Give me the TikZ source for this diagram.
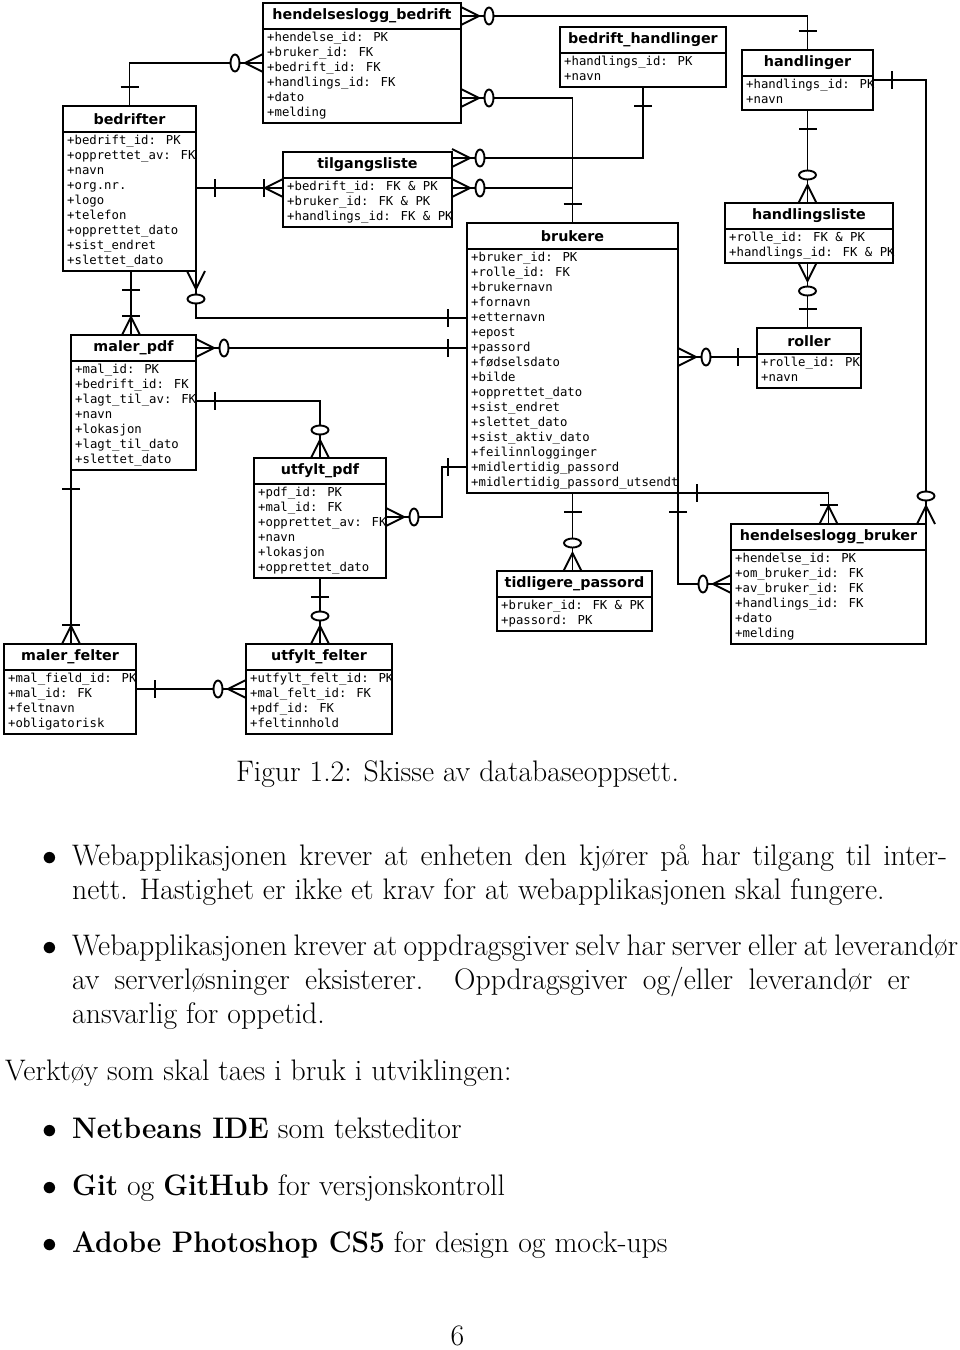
\RequirePackage{fix-cm}
\documentclass[tikz,border=0pt]{standalone}
\usepackage{fontspec}
\newfontfamily\hdrfont{DejaVu Sans}
\newfontfamily\rowfont{DejaVu Sans Mono}
\newcommand\bfx[1]{\scalebox{0.945}[1]{\textbf{#1}}}
\tikzset{
  x=1pt, y=-1pt,
  ebox/.style={draw, line width=2.4pt, fill=white, inner sep=0, outer sep=0, rectangle},
  hline/.style={line width=2.4pt},
  conn/.style={line width=1.9pt, line cap=butt, line join=miter},
  etitle/.style={font=\hdrfont\bfseries\fontsize{14.3pt}{16pt}\selectfont, inner sep=0},
  erow/.style={font=\rowfont\fontsize{12.3pt}{15pt}\selectfont, inner sep=0, anchor=west, text height=9pt, text depth=3pt},
  doc/.style={font=\fontsize{29.7pt}{34pt}\selectfont, inner sep=0, anchor=base west},
}
\newcommand\entity[6]{%
  \node[ebox, anchor=north west, minimum width=#4pt, minimum height=#5pt] (#1) at (#2,#3) {};
  \draw[hline] ([yshift=-26pt]#1.north west) -- ([yshift=-26pt]#1.north east);
  \node[etitle] at ([yshift=-13pt]#1.north) {#6};
}
\newcommand\rowlist[2]{%
  \foreach \rt [count=\ri] in {#2}
    \node[erow] at ([xshift=4pt,yshift={-20pt-15pt*\ri}]#1.north west) {\rt};
}
\newcommand\symbar[2]{\begin{scope}[shift={#1},rotate=#2]\draw[conn] (19,-9) -- (19,9);\end{scope}}
\newcommand\symcrow[2]{\begin{scope}[shift={#1},rotate=#2]\draw[conn] (0,-9) -- (18,0) -- (0,9);\end{scope}}
\newcommand\symcirc[2]{\begin{scope}[shift={#1},rotate=#2]\draw[conn,fill=white] (28,0) ellipse [x radius=4.5pt, y radius=8.5pt];\end{scope}}
\newcommand\one[2]{\symbar{#1}{#2}}
\newcommand\zmany[2]{\symcrow{#1}{#2}\symcirc{#1}{#2}}
\newcommand\omany[2]{\symcrow{#1}{#2}\symbar{#1}{#2}}
\begin{document}
\begin{tikzpicture}
\fill[white] (0,0) rectangle (960,1350);
\useasboundingbox (0,0) rectangle (960,1350);

% ---------- entities ----------
\entity{hb}{263}{3}{198}{120}{hendelseslogg\_bedrift}
\rowlist{hb}{+hendelse\_id: PK,+bruker\_id: FK,+bedrift\_id: FK,+handlings\_id: FK,+dato,+melding}
\entity{bedrifter}{63}{106}{133}{165}{bedrifter}
\rowlist{bedrifter}{+bedrift\_id: PK,+opprettet\_av: FK,+navn,+org.nr.,+logo,+telefon,+opprettet\_dato,+sist\_endret,+slettet\_dato}
\entity{tl}{283}{152}{169}{75}{tilgangsliste}
\rowlist{tl}{+bedrift\_id: FK \& PK,+bruker\_id: FK \& PK,+handlings\_id: FK \& PK}
\entity{bh}{560}{27}{166}{60}{bedrift\_handlinger}
\rowlist{bh}{+handlings\_id: PK,+navn}
\entity{handlinger}{742}{50}{131}{60}{handlinger}
\rowlist{handlinger}{+handlings\_id: PK,+navn}
\entity{hl}{725}{203}{168}{60}{handlingsliste}
\rowlist{hl}{+rolle\_id: FK \& PK,+handlings\_id: FK \& PK}
\entity{brukere}{467}{223}{211}{270}{brukere}
\rowlist{brukere}{+bruker\_id: PK,+rolle\_id: FK,+brukernavn,+fornavn,+etternavn,+epost,+passord,+fødselsdato,+bilde,+opprettet\_dato,+sist\_endret,+slettet\_dato,+sist\_aktiv\_dato,+feilinnlogginger,+midlertidig\_passord,+midlertidig\_passord\_utsendt}
\entity{roller}{757}{328}{104}{60}{roller}
\rowlist{roller}{+rolle\_id: PK,+navn}
\entity{mp}{71}{335}{125}{135}{maler\_pdf}
\rowlist{mp}{+mal\_id: PK,+bedrift\_id: FK,+lagt\_til\_av: FK,+navn,+lokasjon,+lagt\_til\_dato,+slettet\_dato}
\entity{up}{254}{458}{132}{120}{utfylt\_pdf}
\rowlist{up}{+pdf\_id: PK,+mal\_id: FK,+opprettet\_av: FK,+navn,+lokasjon,+opprettet\_dato}
\entity{mf}{4}{644}{132}{90}{maler\_felter}
\rowlist{mf}{+mal\_field\_id: PK,+mal\_id: FK,+feltnavn,+obligatorisk}
\entity{uf}{246}{644}{146}{90}{utfylt\_felter}
\rowlist{uf}{+utfylt\_felt\_id: PK,+mal\_felt\_id: FK,+pdf\_id: FK,+feltinnhold}
\entity{tp}{497}{571}{155}{60}{tidligere\_passord}
\rowlist{tp}{+bruker\_id: FK \& PK,+passord: PK}
\entity{hbr}{731}{524}{195}{120}{hendelseslogg\_bruker}
\rowlist{hbr}{+hendelse\_id: PK,+om\_bruker\_id: FK,+av\_bruker\_id: FK,+handlings\_id: FK,+dato,+melding}

% ---------- connectors ----------
\draw[conn] (bedrifter.north) |- (hb.west |- 0,63);
\draw[conn] (bedrifter.east |- 0,188) -- (tl.west |- 0,188);
\draw[conn] (hb.east |- 0,16) -| (handlinger.north);
\draw[conn] (hb.east |- 0,98) -| (brukere.north);
\draw[conn] (tl.east |- 0,158) -| (bh.south);
\draw[conn] (tl.east |- 0,188) -- (brukere.north |- 0,188);
\draw[conn] (handlinger.south) -- (handlinger.south |- hl.north);
\draw[conn] (hl.south -| handlinger.south) -- (roller.north -| handlinger.south);
\draw[conn] (roller.west |- 0,357) -- (brukere.east |- 0,357);
\draw[conn] (handlinger.east |- 0,80) -| (hbr.north east);
\draw[conn] (bedrifter.south east) |- (brukere.west |- 0,318);
\draw[conn] (bedrifter.south -| 131,0) -- (mp.north -| 131,0);
\draw[conn] (mp.east |- 0,348) -- (brukere.west |- 0,348);
\draw[conn] (mp.east |- 0,401) -| (up.north);
\coordinate (bend15) at (442,467);
\draw[conn] (brukere.west |- 0,467) -- (bend15) |- (up.east |- 0,517);
\draw[conn] (mp.south west) -- (mp.south west |- mf.north);
\draw[conn] (up.south) -- (up.south |- uf.north);
\draw[conn] (mf.east |- 0,689) -- (uf.west |- 0,689);
\draw[conn] (brukere.south) -- (brukere.south |- tp.north);
\draw[conn] (brukere.south east) |- (hbr.west |- 0,584);
\draw[conn] (brukere.south east) -| (hbr.north);

% ---------- end symbols ----------
\one{(bedrifter.north)}{90}
\zmany{(hb.west |- 0,63)}{180}
\one{(bedrifter.east |- 0,188)}{0}
\omany{(tl.west |- 0,188)}{180}
\zmany{(hb.east |- 0,16)}{0}
\one{(handlinger.north)}{90}
\zmany{(hb.east |- 0,98)}{0}
\one{(brukere.north)}{90}
\zmany{(tl.east |- 0,158)}{0}
\one{(bh.south)}{-90}
\zmany{(tl.east |- 0,188)}{0}
\one{(handlinger.south)}{-90}
\zmany{(handlinger.south |- hl.north)}{90}
\zmany{(hl.south -| handlinger.south)}{-90}
\one{(roller.north -| handlinger.south)}{90}
\one{(roller.west |- 0,357)}{180}
\zmany{(brukere.east |- 0,357)}{0}
\one{(handlinger.east |- 0,80)}{0}
\zmany{(hbr.north east)}{90}
\zmany{(bedrifter.south east)}{-90}
\one{(brukere.west |- 0,318)}{180}
\one{(bedrifter.south -| 131,0)}{-90}
\omany{(mp.north -| 131,0)}{90}
\zmany{(mp.east |- 0,348)}{0}
\one{(brukere.west |- 0,348)}{180}
\one{(mp.east |- 0,401)}{0}
\zmany{(up.north)}{90}
\one{(brukere.west |- 0,467)}{180}
\zmany{(up.east |- 0,517)}{0}
\one{(mp.south west)}{-90}
\omany{(mp.south west |- mf.north)}{90}
\one{(up.south)}{-90}
\zmany{(up.south |- uf.north)}{90}
\one{(mf.east |- 0,689)}{0}
\zmany{(uf.west |- 0,689)}{180}
\one{(brukere.south)}{-90}
\zmany{(brukere.south |- tp.north)}{90}
\one{(brukere.south east)}{-90}
\zmany{(hbr.west |- 0,584)}{180}
\one{(brukere.south east)}{0}
\omany{(hbr.north)}{90}

% ---------- document text ----------
\node[doc, anchor=base] (cap) at (457.5,781) {Figur 1.2: Skisse av databaseoppsett.};
\node[doc, anchor=base] (bu1) at (50,865) {$\bullet$};
\node[doc] (l1) at (72,865) {\makebox[875pt][s]{Webapplikasjonen krever at enheten den kjører på har tilgang til inter-}};
\node[doc] (l2) at (72,899) {nett. Hastighet er ikke et krav for at webapplikasjonen skal fungere.};
\node[doc, anchor=base] (bu2) at (50,955) {$\bullet$};
\node[doc] (l3) at (72,955) {\makebox[886pt][s]{Webapplikasjonen krever at oppdragsgiver selv har server eller at leverandør}};
\node[doc] (l4) at (72,989) {\makebox[838pt][s]{av serverløsninger eksisterer. Oppdragsgiver og/eller leverandør er}};
\node[doc] (l5) at (72,1023) {ansvarlig for oppetid.};
\node[doc] (vk) at (5,1080) {Verktøy som skal taes i bruk i utviklingen:};
\node[doc, anchor=base] (bu3) at (50,1138) {$\bullet$};
\node[doc] (t1) at (72,1138) {\bfx{Netbeans IDE} som teksteditor};
\node[doc, anchor=base] (bu4) at (50,1195) {$\bullet$};
\node[doc] (t2) at (72,1195) {\bfx{Git} og \bfx{GitHub} for versjonskontroll};
\node[doc, anchor=base] (bu5) at (50,1252) {$\bullet$};
\node[doc] (t3) at (72,1252) {\bfx{Adobe Photoshop CS5} for design og mock-ups};
\node[doc, anchor=base] (pg) at (457.5,1345) {6};
\end{tikzpicture}
\end{document}
